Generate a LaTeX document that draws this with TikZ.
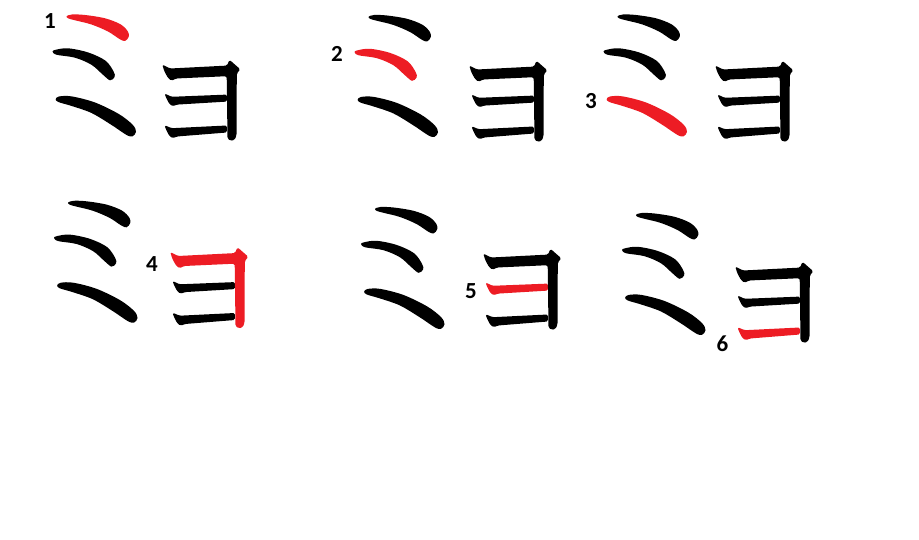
\documentclass[tikz,border=0pt]{standalone}
\usepackage{fontspec}
\setmainfont{Carlito}
\definecolor{strokered}{RGB}{237,28,36}
\tikzset{
  numlabel/.style={font=\fontsize{23}{23}\selectfont\bfseries, text=black, inner sep=0pt, anchor=center},
  brush/.style={rounded corners=1.5pt}
}
% Mi: three tapering strokes (coordinates of the first panel)
\newcommand{\drawMi}[3]{%
  \fill[#1] plot[smooth cycle, tension=0.55] coordinates {(66.5,16.3) (72,14.5) (85,15) (105,18.3) (120.5,24.3) (127.9,31.5) (128.7,36.8) (125,41) (119.5,39) (108,31.5) (91.5,24.5) (75,20.3) (68.5,18.5)};
  \fill[#2] plot[smooth cycle, tension=0.55] coordinates {(52.5,51.5) (56,49.7) (68.3,48.3) (88.3,52.5) (105.5,60.7) (113.6,71.5) (114.6,77) (110,80.3) (103,74.8) (91.5,64.8) (75,57.7) (56.7,54.8)};
  \fill[#3] plot[smooth cycle, tension=0.55] coordinates {(55.7,99.2) (59,96.5) (71.7,96.4) (95,102.5) (118.8,114) (132.6,124.7) (136,131.7) (132.5,136.3) (126.3,134.8) (111.3,124.8) (91.5,113) (71.7,106) (58.3,102)};
}
% Yo: stroke 4 (top bar and vertical), 5 (middle bar), 6 (bottom bar)
\newcommand{\drawYo}[3]{%
  \fill[#2, brush] (164.5,93.5) -- (171.7,96.8) -- (226.9,94.6) -- (226.9,101.6) -- (177,104.6) -- (172.5,106.3) -- (169,103.5) -- (166,97.5) -- cycle;
  \fill[#3, brush] (164.5,125.2) -- (171.7,128.2) -- (226.9,125.5) -- (226.9,132.5) -- (177,136.5) -- (172.5,138.3) -- (169,135.5) -- (166,129.5) -- cycle;
  \fill[#1, brush] (162.3,64.5) -- (170,68.5) -- (227,65.6) -- (229.5,59.8) -- (240.3,69.3) -- (236.8,73.5) -- (236.5,135.5)
     -- (234.5,140) -- (230.5,140.8) -- (227.5,138.5) -- (226.7,76.2) -- (176,78.5) -- (171.5,80.8) -- (168,78) -- (164.2,71) -- cycle;
}
\begin{document}
\begin{tikzpicture}[x=1pt, y=-1pt]
\fill[white] (0,0) rectangle (919,540);
\useasboundingbox (0,0) rectangle (919,540);
% panel 1
\begin{scope}\drawMi{strokered}{black}{black}\end{scope}
\begin{scope}\drawYo{black}{black}{black}\end{scope}
\node[numlabel] (n1) at (50,21.5) {1};
% panel 2
\begin{scope}[shift={(302,0.5)}]\drawMi{black}{strokered}{black}\end{scope}
\begin{scope}[shift={(307,1)}]\drawYo{black}{black}{black}\end{scope}
\node[numlabel] (n2) at (337,54) {2};
% panel 3
\begin{scope}[shift={(551,0)}]\drawMi{black}{black}{strokered}\end{scope}
\begin{scope}[shift={(553,1)}]\drawYo{black}{black}{black}\end{scope}
\node[numlabel] (n3) at (591,101.5) {3};
% panel 4
\begin{scope}[shift={(1.5,186.3)}]\drawMi{black}{black}{black}\end{scope}
\begin{scope}[shift={(8,187.5)}]\drawYo{strokered}{black}{black}\end{scope}
\node[numlabel] (n4) at (152,264) {4};
% panel 5
\begin{scope}[shift={(308.5,192.5)}]\drawMi{black}{black}{black}\end{scope}
\begin{scope}[shift={(321,189)}]\drawYo{black}{strokered}{black}\end{scope}
\node[numlabel] (n5) at (471,291.3) {5};
% panel 6
\begin{scope}[shift={(569.5,198.5)}]\drawMi{black}{black}{black}\end{scope}
\begin{scope}[shift={(573,202)}]\drawYo{black}{black}{strokered}\end{scope}
\node[numlabel] (n6) at (722.5,344.2) {6};
\end{tikzpicture}
\end{document}
